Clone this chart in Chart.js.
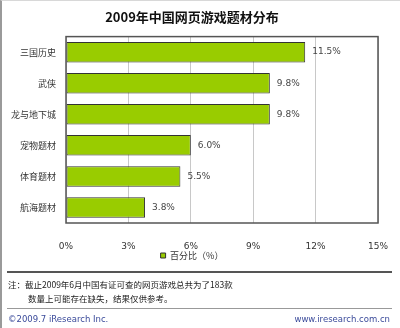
<!DOCTYPE html>
<html lang="zh-CN">
<head>
<meta charset="UTF-8">
<title>2009年中国网页游戏题材分布</title>
<script src="https://cdn.jsdelivr.net/npm/chart.js"></script>
<style>
    body { margin: 0; background: #fff; }
    .quadro {
        position: relative; width: 400px; height: 328px; box-sizing: border-box;
        border-left: 2px solid #9a9a9a; border-top: 1px solid #d8d8d8;
        font-family: "Noto Sans CJK SC", sans-serif; color: #333;
    }
    #grafico { position: absolute; left: -2px; top: -1px; }
    .linha-escura { position: absolute; left: 5px; right: 8px; top: 270px; height: 2px; background: #555; }
    .nota { position: absolute; font-size: 8.5px; line-height: 14px; color: #222; }
    .linha-clara { position: absolute; left: 5px; right: 8px; top: 307px; height: 1px; background: #999; }
    .rodape { position: absolute; top: 313px; font-size: 8.5px; color: #3a4a9a; font-family: "DejaVu Sans", sans-serif; }
</style>
</head>
<body>
<div class="quadro">
    <canvas id="grafico" width="400" height="272"></canvas>
    <div class="linha-escura"></div>
    <div class="nota" style="left:6px; top:276px;">注：截止2009年6月中国有证可查的网页游戏总共为了183款</div>
    <div class="nota" style="left:26px; top:290px;">数量上可能存在缺失，结果仅供参考。</div>
    <div class="linha-clara"></div>
    <div class="rodape" style="left:6px;">©2009.7 iResearch Inc.</div>
    <div class="rodape" style="right:10px;">www.iresearch.com.cn</div>
</div>

<script>
    const temas = ["三国历史", "武侠", "龙与地下城", "宠物题材", "体育题材", "航海题材"];
    const percentuais = [11.5, 9.8, 9.8, 6.0, 5.5, 3.8];
    const ticksX = [0, 3, 6, 9, 12, 15];

    // borda escura em volta da área do gráfico + rótulos de valor
    const moldura = {
        id: 'moldura',
        afterDatasetsDraw(chart) {
            const { ctx, chartArea: a } = chart;
            ctx.save();
            ctx.strokeStyle = '#555';
            ctx.lineWidth = 1.5;
            ctx.strokeRect(a.left, a.top, a.right - a.left, a.bottom - a.top);
            ctx.fillStyle = '#444';
            ctx.font = '9px "DejaVu Sans", sans-serif';
            ctx.textBaseline = 'middle';
            chart.getDatasetMeta(0).data.forEach((bar, i) => {
                ctx.fillText(percentuais[i].toFixed(1) + '%', bar.x + 7, bar.y);
            });
            ctx.restore();
        }
    };

    new Chart(document.getElementById('grafico'), {
        type: 'bar',
        data: {
            labels: temas,
            datasets: [{
                label: '百分比（%）',
                data: percentuais,
                backgroundColor: '#99cc00',
                borderColor: '#333',
                borderWidth: 1,
                borderSkipped: false,
                categoryPercentage: 0.66,
                barPercentage: 1
            }]
        },
        options: {
            indexAxis: 'y',
            responsive: false,
            animation: false,
            layout: { padding: { left: 6, right: 22, top: 0, bottom: 2 } },
            plugins: {
                title: {
                    display: true,
                    text: '2009年中国网页游戏题材分布',
                    color: '#111',
                    font: { size: 13, weight: 'bold', family: '"Noto Sans CJK SC"' },
                    padding: { top: 9, bottom: 12 }
                },
                legend: {
                    position: 'bottom',
                    labels: {
                        boxWidth: 5, boxHeight: 5, padding: 2,
                        color: '#333',
                        font: { size: 9, family: '"Noto Sans CJK SC"' }
                    }
                },
                tooltip: { enabled: false }
            },
            scales: {
                x: {
                    min: 0, max: 15,
                    afterBuildTicks: s => { s.ticks = ticksX.map(v => ({ value: v })); },
                    afterFit: s => { s.height = 26; },
                    ticks: {
                        callback: v => v + '%',
                        color: '#333',
                        padding: 2,
                        font: { size: 9, family: '"DejaVu Sans"' }
                    },
                    // marcas invisíveis só para afastar os rótulos do eixo
                    grid: { color: '#c8c8c8', drawTicks: true, tickLength: 16, tickColor: 'transparent' },
                    border: { display: false }
                },
                y: {
                    afterFit: s => { s.width = 60; },
                    ticks: {
                        color: '#333',
                        padding: 10,
                        font: { size: 9, family: '"Noto Sans CJK SC"' }
                    },
                    grid: { display: false, drawTicks: false },
                    border: { display: false }
                }
            }
        },
        plugins: [moldura]
    });
</script>
</body>
</html>
